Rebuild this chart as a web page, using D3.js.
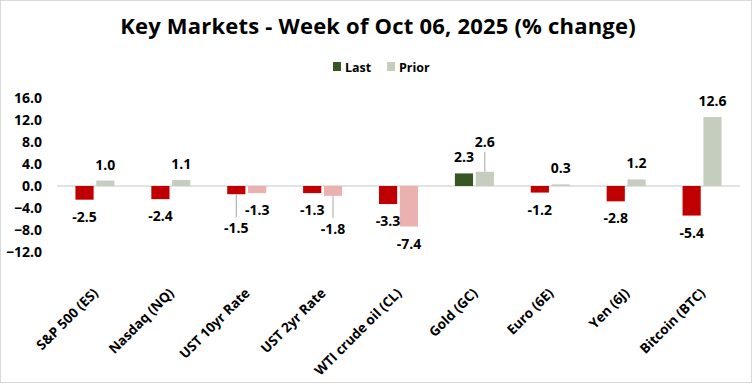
<!DOCTYPE html>
<html>
<head>
<meta charset="utf-8">
<script src="https://cdn.jsdelivr.net/npm/d3@7"></script>
<style>
  body { margin: 0; background: #fff; }
  svg { display: block; font-family: "Open Sans", sans-serif; }
</style>
</head>
<body>
<div id="chart"></div>
<script>
// data
const categories = ["S&P 500 (ES)", "Nasdaq (NQ)", "UST 10yr Rate", "UST 2yr Rate",
    "WTI crude oil (CL)", "Gold (GC)", "Euro (6E)", "Yen (6J)", "Bitcoin (BTC)"];
const seriesNames = ["Last", "Prior"];
const lastValues = [-2.5, -2.4, -1.5, -1.3, -3.3, 2.3, -1.2, -2.8, -5.4];
const priorValues = [1.0, 1.1, -1.3, -1.8, -7.4, 2.6, 0.3, 1.2, 12.6];
const yTicks = [16, 12, 8, 4, 0, -4, -8, -12];

// labels that were dragged away from their bar in the original (px)
const labelNudge = {
    "UST 10yr Rate|Last": 17,
    "UST 2yr Rate|Prior": 16,
    "Gold (GC)|Prior": -14
};

const colors = {
    Last: { pos: "#375623", neg: "#c00000" },
    Prior: { pos: "#c5cdbf", neg: "#ebb1b1" }
};

const width = 756, height = 384;
const margin = { top: 98.4, right: 16, bottom: 132.3, left: 57 };
const plotRight = 740;

const svg = d3.select("#chart").append("svg")
    .attr("width", width)
    .attr("height", height);

// chart border
svg.append("rect")
    .attr("x", 0.5).attr("y", 0.5)
    .attr("width", 751).attr("height", 382)
    .attr("fill", "#fff")
    .attr("stroke", "#d9d9d9");

// title
svg.append("text")
    .attr("x", 378).attr("y", 34)
    .attr("text-anchor", "middle")
    .style("font-size", "22px")
    .style("font-weight", 700)
    .style("letter-spacing", "0.2px")
    .text("Key Markets - Week of Oct 06, 2025 (% change)");

// legend
const legend = svg.append("g").attr("transform", "translate(333, 62)");
const legendItems = [{ name: "Last", x: 0 }, { name: "Prior", x: 54 }];
legendItems.forEach(it => {
    legend.append("rect")
        .attr("x", it.x).attr("y", 0)
        .attr("width", 8).attr("height", 9)
        .attr("fill", colors[it.name].pos);
    legend.append("text")
        .attr("x", it.x + 12).attr("y", 9.5)
        .style("font-size", "12.5px")
        .style("font-weight", 700)
        .text(it.name);
});

const x0 = d3.scaleBand()
    .domain(categories)
    .range([margin.left, plotRight]);

const x1 = d3.scaleBand()
    .domain(seriesNames)
    .range([-19.5, 19.5])
    .paddingInner(5 / 39);

const y = d3.scaleLinear()
    .domain([-12, 16])
    .range([height - margin.bottom, margin.top]);

// y axis labels (no line, no ticks)
const yAxis = svg.append("g")
    .attr("transform", `translate(${margin.left}, 0)`)
    .call(d3.axisLeft(y).tickValues(yTicks).tickSize(0).tickPadding(15).tickFormat(d3.format(".1f")));
yAxis.select(".domain").remove();
yAxis.selectAll("text")
    .style("font-family", "Open Sans, sans-serif")
    .style("font-size", "14px")
    .style("font-weight", 700)
    .attr("fill", "#000");

// zero line
svg.append("line")
    .attr("x1", margin.left).attr("x2", plotRight)
    .attr("y1", y(0)).attr("y2", y(0))
    .attr("stroke", "#d9d9d9")
    .attr("stroke-width", 1.3);

const bars = [];
categories.forEach((c, i) => {
    bars.push({ cat: c, series: "Last", value: lastValues[i] });
    bars.push({ cat: c, series: "Prior", value: priorValues[i] });
});
const barX = d => x0(d.cat) + x0.bandwidth() / 2 + x1(d.series);

svg.append("g").selectAll("rect")
    .data(bars)
    .join("rect")
    .attr("x", barX)
    .attr("width", x1.bandwidth())
    .attr("y", d => y(Math.max(0, d.value)))
    .attr("height", d => Math.abs(y(d.value) - y(0)))
    .attr("fill", d => d.value >= 0 ? colors[d.series].pos : colors[d.series].neg);

// data labels
const labels = svg.append("g");
bars.forEach(d => {
    const cx = barX(d) + x1.bandwidth() / 2;
    const nudge = labelNudge[d.cat + "|" + d.series] || 0;
    const end = y(d.value);
    const cy = d.value >= 0 ? end - 16 + nudge : end + 17 + nudge;
    if (nudge) {
        const y2 = d.value >= 0 ? cy + 10 : cy - 11;
        labels.append("line")
            .attr("x1", cx).attr("x2", cx)
            .attr("y1", end).attr("y2", y2)
            .attr("stroke", "#a6a6a6");
    }
    labels.append("text")
        .attr("x", cx).attr("y", cy + 5)
        .attr("text-anchor", "middle")
        .style("font-size", "14px")
        .style("font-weight", 700)
        .text(d.value.toFixed(1));
});

// category labels, rotated
svg.append("g").selectAll("text")
    .data(categories)
    .join("text")
    .attr("transform", d => `translate(${x0(d) + x0.bandwidth() / 2 + 4}, 294) rotate(-45)`)
    .attr("text-anchor", "end")
    .style("font-size", "13.5px")
    .style("font-weight", 700)
    .text(d => d);
</script>
</body>
</html>
